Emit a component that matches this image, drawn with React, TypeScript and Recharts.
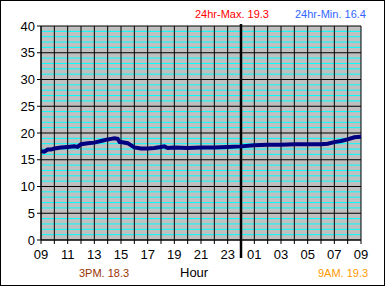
import { LineChart, Line, XAxis, YAxis, CartesianGrid, ReferenceLine } from 'recharts';

// hours since 09:00 and temperature readings
const hours = [
  0, 0.25, 0.5, 0.75, 1, 1.5, 2, 2.5, 2.75, 3, 3.5, 4, 4.5, 5, 5.25, 5.5, 5.75, 5.9, 6, 6.5, 7, 7.5, 8, 8.5, 9,
  9.25, 9.5, 10, 11, 12, 13, 14, 15, 16, 17, 18, 19, 20, 21, 21.5, 22, 22.5, 23, 23.5, 24,
];
const temps = [
  16.6, 16.5, 16.9, 16.9, 17.1, 17.3, 17.4, 17.5, 17.4, 17.9, 18.1, 18.2, 18.5, 18.8, 18.9, 19.0, 18.9, 18.3, 18.3,
  18.1, 17.3, 17.1, 17.1, 17.2, 17.4, 17.5, 17.2, 17.3, 17.2, 17.3, 17.3, 17.4, 17.5, 17.7, 17.8, 17.8, 17.9, 17.9,
  17.9, 18.0, 18.3, 18.5, 18.8, 19.2, 19.3,
];
const hourTicks = [0, 1, 2, 3, 4, 5, 6, 7, 8, 9, 10, 11, 12, 13, 14, 15, 16, 17, 18, 19, 20, 21, 22, 23, 24];
const tempTicks = [0, 5, 10, 15, 20, 25, 30, 35, 40];
const minorTemps = [
  1, 2, 3, 4, 6, 7, 8, 9, 11, 12, 13, 14, 16, 17, 18, 19, 21, 22, 23, 24, 26, 27, 28, 29, 31, 32, 33, 34, 36, 37, 38, 39,
];
const midnight = 15;

const data = hours.map((h, i) => ({ h, t: temps[i] }));

const font = '"Liberation Sans", Arial, sans-serif';

const hourLabel = (v: number) => (v % 2 === 0 ? String((9 + v) % 24).padStart(2, '0') : '');

// midnight marker pokes out above and below the plot
const MidnightLine = (props: any) => {
  const { x1, y1, y2 } = props;
  const top = Math.min(y1, y2);
  const bottom = Math.max(y1, y2);
  return <line x1={x1} x2={x1} y1={top - 2} y2={bottom + 18} stroke="#000" strokeWidth={2.5} />;
};

const note = (text: string, left: number, top: number, color: string, size = 11) => (
  <div style={{ position: 'absolute', left, top, color, fontSize: size, lineHeight: 1, fontFamily: font, whiteSpace: 'nowrap' }}>
    {text}
  </div>
);

export default function App() {
  return (
    <div style={{ position: 'absolute', left: 0, top: 0, width: 385, height: 286, background: '#fff' }}>
      <LineChart width={385} height={286} data={data} margin={{ top: 26, right: 24, bottom: 16, left: 0 }}>
        <CartesianGrid fill="#c0c0c0" horizontal={false} vertical={false} />
        <XAxis
          dataKey="h"
          type="number"
          domain={[0, 24]}
          ticks={hourTicks}
          interval={0}
          tickFormatter={hourLabel}
          tickSize={4}
          tickMargin={6}
          stroke="#000"
          tick={{ fill: '#000', fontSize: 13, fontFamily: font }}
        />
        <YAxis
          type="number"
          domain={[0, 40]}
          ticks={tempTicks}
          width={41}
          tickSize={4}
          stroke="#000"
          tick={{ fill: '#000', fontSize: 13, fontFamily: font }}
        />
        {minorTemps.map((v) => (
          <ReferenceLine key={'m' + v} y={v} stroke="#00ffff" strokeWidth={1} />
        ))}
        {tempTicks.map((v) => (
          <ReferenceLine key={'y' + v} y={v} stroke="#000" strokeWidth={1} />
        ))}
        {hourTicks.map((v) => (
          <ReferenceLine key={'x' + v} x={v} stroke="#000" strokeWidth={1} />
        ))}
        <ReferenceLine x={midnight} shape={MidnightLine} />
        <Line dataKey="t" stroke="#000080" strokeWidth={4} dot={false} type="linear" isAnimationActive={false} />
      </LineChart>
      {note('24hr-Max. 19.3', 195, 9, '#ff0000')}
      {note('24hr-Min. 16.4', 295, 9, '#3366ff')}
      {note('3PM. 18.3', 79, 268, '#993300')}
      {note('Hour', 180, 266, '#000', 13)}
      {note('9AM. 19.3', 318, 268, '#ff9900')}
      <div style={{ position: 'absolute', left: 0, top: 0, width: 385, height: 286, boxSizing: 'border-box', border: '1px solid #000' }} />
    </div>
  );
}
